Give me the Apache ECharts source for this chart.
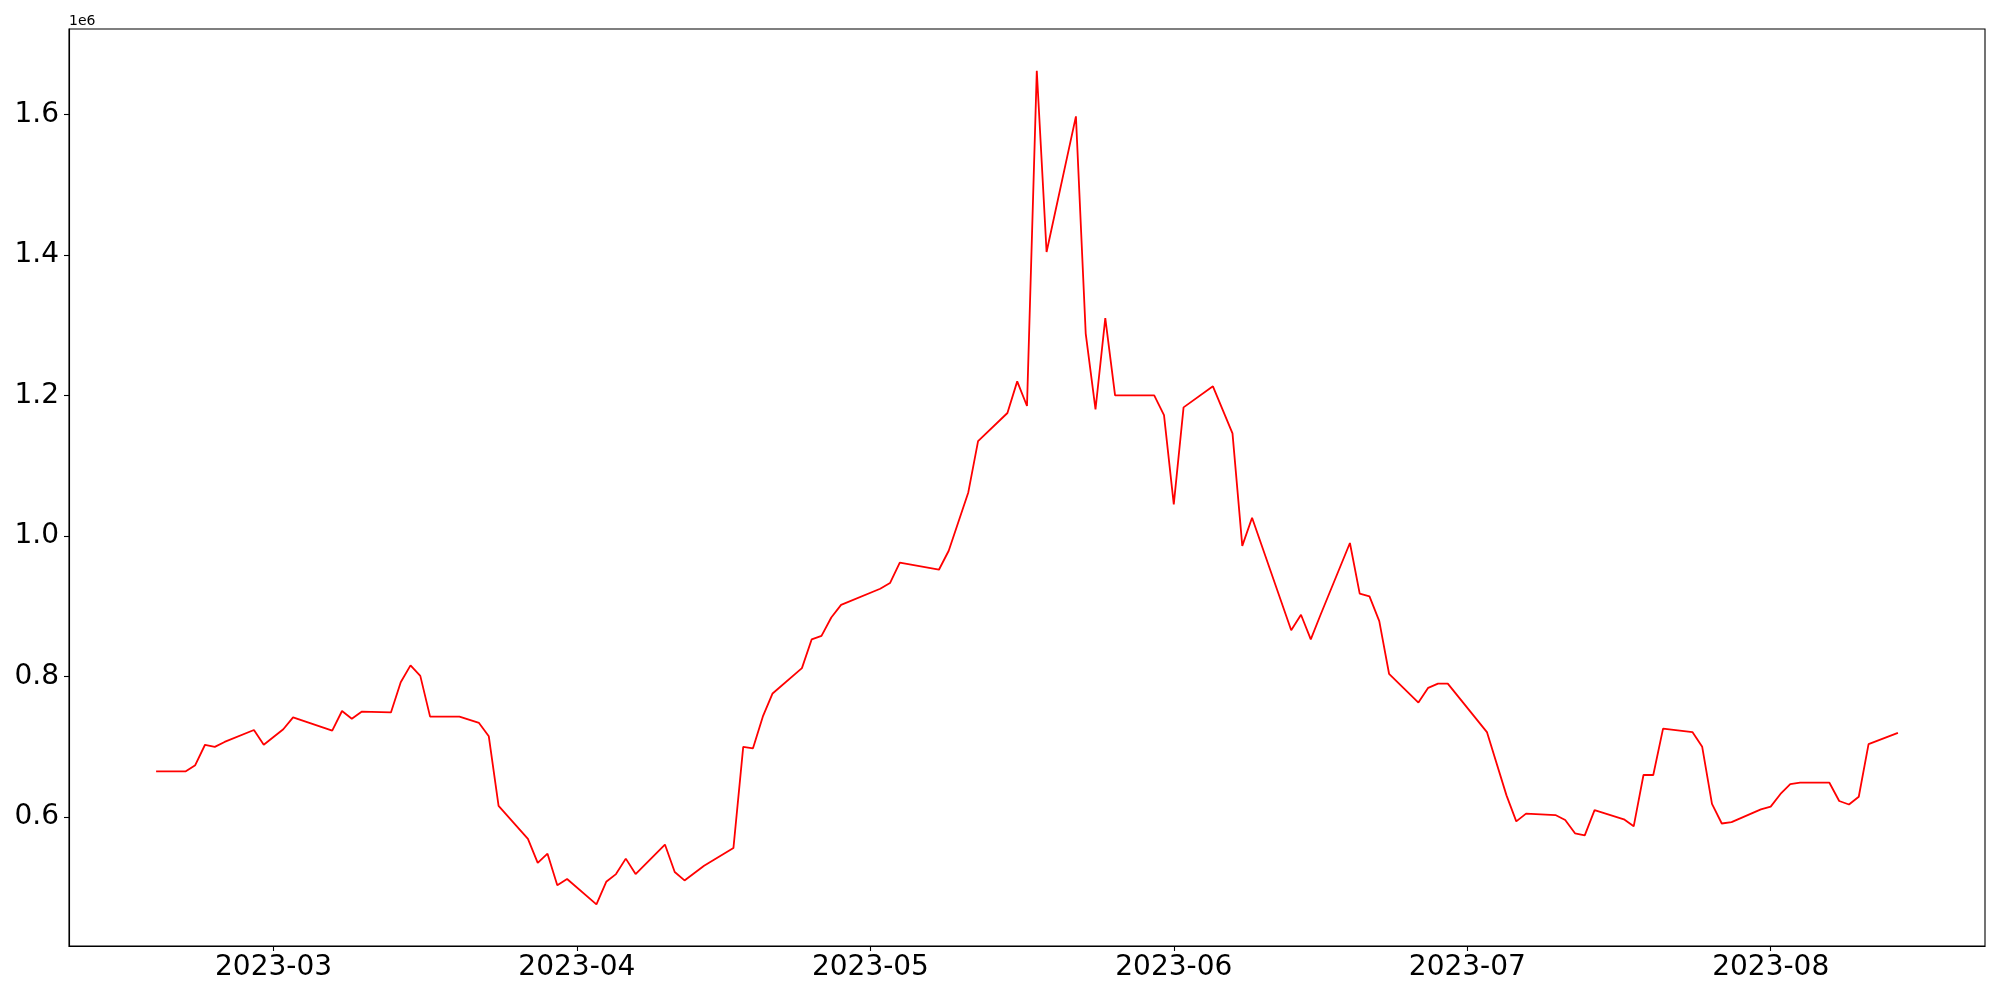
<!DOCTYPE html>
<html><head><meta charset="utf-8">
<script src="https://cdn.jsdelivr.net/npm/echarts@6/dist/echarts.min.js"></script>
<style>html,body{margin:0;padding:0;background:#fff}#c{width:2000px;height:1000px}</style>
</head><body><div id="c"></div>
<script>
const dates = [
'2023-02-17','2023-02-20','2023-02-21','2023-02-22','2023-02-23','2023-02-24','2023-02-27','2023-02-28',
'2023-03-02','2023-03-03','2023-03-07','2023-03-08','2023-03-09','2023-03-10','2023-03-13','2023-03-14',
'2023-03-15','2023-03-16','2023-03-17','2023-03-20','2023-03-22','2023-03-23','2023-03-24','2023-03-27',
'2023-03-28','2023-03-29','2023-03-30','2023-03-31','2023-04-03','2023-04-04','2023-04-05','2023-04-06',
'2023-04-07','2023-04-10','2023-04-11','2023-04-12','2023-04-14','2023-04-17','2023-04-18','2023-04-19',
'2023-04-20','2023-04-21','2023-04-24','2023-04-25','2023-04-26','2023-04-27','2023-04-28','2023-05-02',
'2023-05-03','2023-05-04','2023-05-08','2023-05-09','2023-05-11','2023-05-12','2023-05-15','2023-05-16',
'2023-05-17','2023-05-18','2023-05-19','2023-05-22','2023-05-23','2023-05-24','2023-05-25','2023-05-26',
'2023-05-30','2023-05-31','2023-06-01','2023-06-02','2023-06-05','2023-06-07','2023-06-08','2023-06-09',
'2023-06-13','2023-06-14','2023-06-15','2023-06-16','2023-06-19','2023-06-20','2023-06-21','2023-06-22',
'2023-06-23','2023-06-26','2023-06-27','2023-06-28','2023-06-29','2023-07-03','2023-07-05','2023-07-06',
'2023-07-07','2023-07-10','2023-07-11','2023-07-12','2023-07-13','2023-07-14','2023-07-17','2023-07-18',
'2023-07-19','2023-07-20','2023-07-21','2023-07-24','2023-07-25','2023-07-26','2023-07-27','2023-07-28',
'2023-07-31','2023-08-01','2023-08-02','2023-08-03','2023-08-04','2023-08-07','2023-08-08','2023-08-09',
'2023-08-10','2023-08-11','2023-08-14'];
const values = [
665000,665000,674000,703000,700000,707000,724000,703000,
725000,742000,723000,751000,740000,750000,749000,792000,
816000,801000,743000,743000,734000,715000,616000,569000,
535000,548000,503000,512000,476000,508000,519000,541000,
519000,561000,522000,510000,531000,556000,700000,698000,
743000,776000,812000,853000,858000,884000,902000,925000,
933000,962000,952000,979000,1062000,1135000,1175000,1220000,
1185000,1662000,1404000,1597000,1288000,1180000,1310000,1200000,
1200000,1172000,1045000,1183000,1213000,1146000,986000,1026000,
866000,888000,853000,888000,990000,918000,914000,879000,
804000,763000,784000,790000,790000,721000,631000,594000,
605000,603000,596000,577000,574000,610000,597000,587000,
660000,660000,726000,721000,700000,619000,591000,593000,
611000,615000,633000,647000,649000,649000,623000,618000,
629000,704000,720000];
const xTickDates = ['2023-03-01','2023-04-01','2023-05-01','2023-06-01','2023-07-01','2023-08-01'];
const xTickLabels = ['2023-03','2023-04','2023-05','2023-06','2023-07','2023-08'];
const yTicks = [600000,800000,1000000,1200000,1400000,1600000];
const yTickLabels = ['0.6','0.8','1.0','1.2','1.4','1.6'];
const offsetText = '1e6';

const toTs = s => Date.parse(s + 'T00:00:00Z');
const xs = dates.map(toTs);
const xTicks = xTickDates.map(toTs);
const seriesData = xs.map((t, i) => [t, values[i]]);
const xr = xs[xs.length - 1] - xs[0];
const vMin = Math.min(...values), vMax = Math.max(...values);
const vr = vMax - vMin;

const FONT = 'DejaVu Sans';
const chart = echarts.init(document.getElementById('c'), null, {renderer: 'canvas'});
chart.setOption({
  animation: false,
  backgroundColor: '#fff',
  grid: {left: 69, right: 15, top: 29, bottom: 54, show: true, borderColor: '#000', borderWidth: 1.1, containLabel: false},
  xAxis: {
    type: 'value',
    min: xs[0] - 0.05 * xr,
    max: xs[xs.length - 1] + 0.05 * xr,
    splitLine: {show: false},
    axisLine: {show: true, lineStyle: {color: '#000', width: 1.1}},
    axisTick: {show: true, length: 5, lineStyle: {color: '#000', width: 1.1}, customValues: xTicks},
    axisLabel: {
      customValues: xTicks,
      margin: 8,
      color: '#000', fontFamily: FONT, fontSize: 28,
      formatter: v => { const i = xTicks.indexOf(v); return i >= 0 ? xTickLabels[i] : ''; }
    }
  },
  yAxis: {
    type: 'value',
    min: vMin - 0.05 * vr,
    max: vMax + 0.05 * vr,
    splitLine: {show: false},
    axisLine: {show: true, lineStyle: {color: '#000', width: 1.1}},
    axisTick: {show: true, length: 5, lineStyle: {color: '#000', width: 1.1}, customValues: yTicks},
    axisLabel: {
      customValues: yTicks,
      margin: 10,
      color: '#000', fontFamily: FONT, fontSize: 28,
      formatter: v => { const i = yTicks.indexOf(v); return i >= 0 ? yTickLabels[i] : ''; }
    }
  },
  graphic: [{
    type: 'text', left: 69, top: 14,
    style: {text: offsetText, fill: '#000', font: '14px "DejaVu Sans"'}
  }],
  series: [{
    type: 'line',
    data: seriesData,
    showSymbol: false,
    symbol: 'none',
    lineStyle: {color: '#ff0000', width: 1.8},
    itemStyle: {color: '#ff0000'}
  }]
});
</script>
</body></html>
